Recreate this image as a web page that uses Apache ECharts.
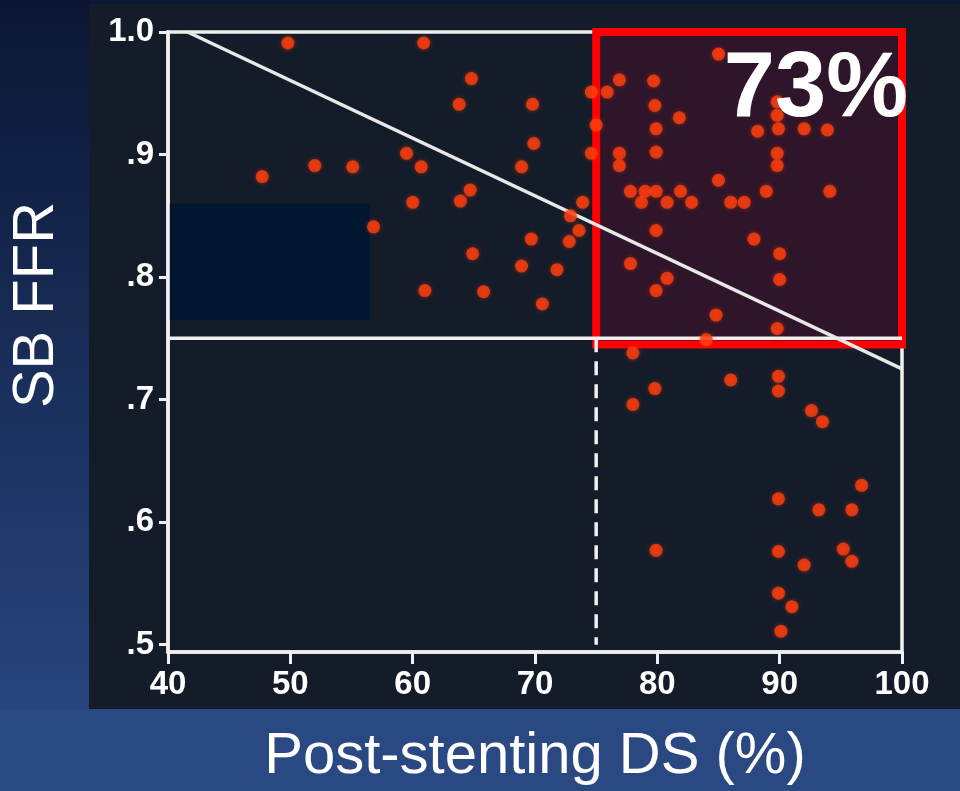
<!DOCTYPE html>
<html>
<head>
<meta charset="utf-8">
<style>
html,body{margin:0;padding:0;background:#0a1633;}
#chart{width:960px;height:791px;}
</style>
<script src="https://cdn.jsdelivr.net/npm/echarts@6/dist/echarts.min.js"></script>
</head>
<body>
<div id="chart"></div>
<script>
// ---- data ----
const dsValues = [49.8,47.7,52.0,55.1,56.8,59.5,60.0,60.9,64.8,63.8,69.8,69.9,60.7,68.9,64.7,63.9,73.9,72.9,73.6,72.8,69.7,64.9,68.9,71.8,61.0,65.8,70.6,
  74.6,75.9,76.9,79.7,79.8,81.8,79.9,75.0,74.6,76.9,79.9,76.9,85.0,85.0,77.8,79.0,79.9,81.9,78.7,80.8,82.8,86.0,87.1,88.9,94.1,79.9,77.8,80.8,79.9,84.8,84.0,
  88.2,89.8,89.8,89.9,92.0,93.9,89.8,89.8,87.9,90.0,90.0,89.8,
  78.0,79.8,78.0,86.0,89.9,89.9,92.6,93.5,96.7,89.9,93.2,95.9,79.9,89.9,95.2,95.9,92.0,89.9,91.0,90.1];
const ffrValues = [0.991,0.882,0.891,0.890,0.841,0.901,0.861,0.991,0.962,0.941,0.941,0.909,0.890,0.890,0.871,0.862,0.861,0.850,0.838,0.829,0.831,0.819,0.809,0.806,0.789,0.788,0.778,
  0.951,0.951,0.961,0.960,0.940,0.930,0.921,0.924,0.901,0.901,0.902,0.891,0.982,0.879,0.870,0.870,0.870,0.870,0.861,0.861,0.861,0.861,0.861,0.870,0.870,0.838,0.811,0.799,0.789,0.769,0.749,
  0.919,0.943,0.932,0.921,0.921,0.920,0.901,0.891,0.831,0.819,0.798,0.758,
  0.738,0.709,0.696,0.716,0.719,0.707,0.691,0.682,0.630,0.619,0.610,0.610,0.577,0.576,0.578,0.568,0.565,0.542,0.531,0.511];
const xTicks = [40,50,60,70,80,90,100];
const yTicks = [0.5,0.6,0.7,0.8,0.9,1.0];
const yTickLabels = ['.5','.6','.7','.8','.9','1.0'];
const dsCutoff = 75;
const ffrCutoff = 0.75;
const fitLine = [[41.6,1.0],[100,0.725]];
const highlightBox = [[75,1.003],[100,0.745]];
const maskBox = [[40.15,0.860],[56.5,0.765]];
const percentText = '73%';
const xTitle = 'Post-stenting DS (%)';
const yTitle = 'SB FFR';

const FONT = "'Liberation Sans', Arial, sans-serif";
const points = dsValues.map((d,i)=>[d, ffrValues[i]]);

const chart = echarts.init(document.getElementById('chart'));
chart.setOption({
  animation:false,
  backgroundColor: {type:'linear',x:0,y:0,x2:0,y2:1,colorStops:[{offset:0,color:'#0a1633'},{offset:1,color:'#2b4a86'}]},
  graphic:[
    {type:'rect',z:-10,silent:true,shape:{x:0,y:709,width:960,height:82},style:{fill:'#2a4983'}},
    {type:'rect',z:-10,silent:true,shape:{x:89,y:4,width:871,height:705},style:{fill:'#141c2a'}},
    {type:'text',z:100,x:37,y:305,rotation:Math.PI/2,style:{text:yTitle,font:'58px '+FONT,fill:'#ffffff',align:'center',verticalAlign:'middle'}},
    {type:'text',z:100,x:908,y:91,style:{text:percentText,font:'bold 92px '+FONT,fill:'#ffffff',align:'right',verticalAlign:'middle'}}
  ],
  grid:{left:168,right:58,top:32,bottom:138,show:true,borderColor:'#f0f0f0',borderWidth:3.5,backgroundColor:'transparent'},
  xAxis:{
    type:'value',min:xTicks[0],max:xTicks[xTicks.length-1],interval:10,
    name:xTitle,nameLocation:'middle',nameGap:76,
    nameTextStyle:{color:'#ffffff',fontSize:58,fontFamily:FONT},
    axisLine:{show:true,lineStyle:{color:'#f0f0f0',width:3.5}},
    axisTick:{show:true,length:12,lineStyle:{color:'#f0f0f0',width:3}},
    axisLabel:{color:'#ffffff',fontSize:33,fontWeight:'bold',fontFamily:FONT,margin:16},
    splitLine:{show:false}
  },
  yAxis:{
    type:'value',min:0.494,max:1.0,
    axisLine:{show:true,lineStyle:{color:'#f0f0f0',width:3.5}},
    axisTick:{show:true,length:9,customValues:yTicks,lineStyle:{color:'#f0f0f0',width:3}},
    axisLabel:{color:'#ffffff',fontSize:33,fontWeight:'bold',fontFamily:FONT,margin:14,
      customValues:yTicks,
      formatter:(v)=>{const i=yTicks.findIndex(t=>Math.abs(t-v)<1e-6);return i>=0?yTickLabels[i]:'';}},
    splitLine:{show:false}
  },
  series:[
    {type:'scatter',z:1,data:[],silent:true,
      markArea:{silent:true,itemStyle:{color:'rgba(140,0,40,0.22)',borderWidth:0},
        data:[[{coord:highlightBox[0]},{coord:highlightBox[1]}]]}},
    {type:'line',z:2,silent:true,symbol:'none',data:[[xTicks[0],ffrCutoff],[xTicks[xTicks.length-1],ffrCutoff]],
      lineStyle:{color:'#f0f0f0',width:3.5}},
    {type:'line',z:2,silent:true,symbol:'none',data:fitLine,lineStyle:{color:'#e8e8e8',width:3.5}},
    {type:'line',z:2,silent:true,symbol:'none',data:[[dsCutoff,ffrCutoff],[dsCutoff,yTicks[0]]],
      lineStyle:{color:'#f0f0f0',width:3.5,type:[14,9]}},
    {type:'scatter',z:3,data:[],silent:true,
      markArea:{silent:true,
        data:[
          [{coord:highlightBox[0],itemStyle:{color:'rgba(0,0,0,0)',borderColor:'#ff0000',borderWidth:8}},{coord:highlightBox[1]}],
          [{coord:maskBox[0],itemStyle:{color:'#01172f',borderWidth:0}},{coord:maskBox[1]}]
        ]}},
    {type:'scatter',z:4,data:points,symbolSize:13,
      itemStyle:{color:'#ff3f0f',shadowBlur:4,shadowColor:'rgba(255,60,0,0.6)'}}
  ]
});
</script>
</body>
</html>
